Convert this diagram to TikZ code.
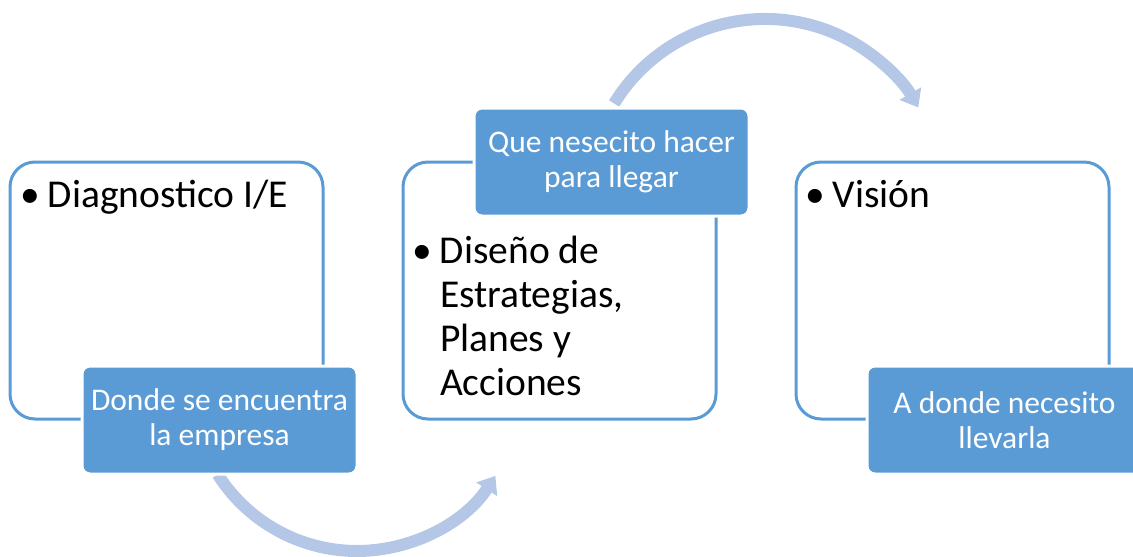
\documentclass[tikz,border=0pt]{standalone}
\usepackage{fontspec}
\setmainfont{Carlito}
\usetikzlibrary{arrows.meta}
\definecolor{obl}{HTML}{5B9BD5}
\definecolor{arcc}{HTML}{B4C7E7}
\begin{document}
\begin{tikzpicture}[x=1pt,y=-1pt,
 outerbox/.style={draw=obl, line width=3pt, rounded corners=25pt, minimum width=313pt, minimum height=257pt, inner sep=0pt, outer sep=0pt},
 lab/.style={fill=obl, draw=white, line width=3pt, rounded corners=8pt, minimum width=275pt, minimum height=108pt, inner sep=0pt, outer sep=0pt, text=white, align=center, font=\fontsize{31.5}{35}\selectfont},
 body/.style={anchor=base west, inner sep=0pt, outer sep=0pt, align=left, font=\fontsize{39.5}{44}\selectfont},
 arr/.style={draw=arcc, line width=12pt, -{Triangle[length=16pt,width=24pt]}}]
\useasboundingbox (0,0) rectangle (1133,557);
% curved arrows (behind)
\coordinate (a1s) at (217.7,474.4);
\coordinate (a2s) at (614.1,103.5);
\draw[arr] (a1s) arc[start angle=147.6, end angle=33, radius=165];
\draw[arr] (a2s) arc[start angle=-148.5, end angle=-30, radius=177];
% outline boxes
\node[outerbox] (b1) at (166.5,290.5) {};
\node[outerbox] (b2) at (559.5,290.5) {};
\node[outerbox] (b3) at (952.5,290.5) {};
% body texts
\node[body] (t1) at (48,207) {\llap{•\hspace{8pt}}Diagnostico I/E};
\node[body] (t2) at (440,395) {\llap{•\hspace{8pt}}Diseño de\\Estrategias,\\Planes y\\Acciones};
\node[body] (t3) at (833,207) {\llap{•\hspace{8pt}}Visión};
% labels
\node[lab] (l1) at (219.5,420) {Donde se encuentra\\la empresa};
\node[lab] (l2) at (611.5,162) {Que nesecito hacer\\para llegar};
\node[lab] (l3) at (1004.5,420) {A donde necesito\\llevarla};
\end{tikzpicture}
\end{document}
